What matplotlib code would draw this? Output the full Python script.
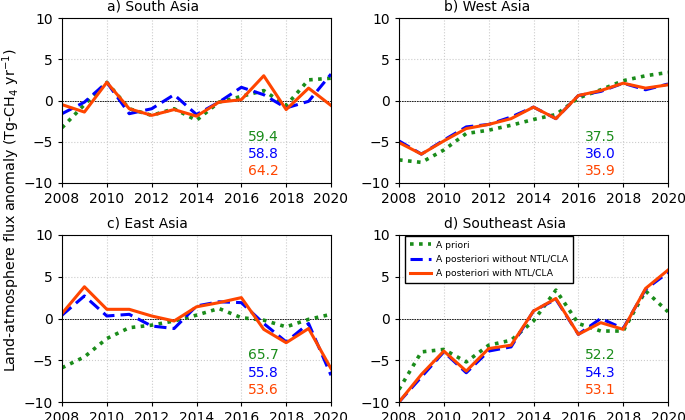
import numpy as np
import matplotlib
matplotlib.use("Agg")
from matplotlib import pyplot as plt

years = np.arange(2008, 2021)

titles = ["a) South Asia", "b) West Asia", "c) East Asia", "d) Southeast Asia"]

# a priori
prior = [
    [-3.3, -0.5, 2.2, -1.0, -1.8, -1.0, -2.4, -0.2, 0.5, 1.2, -0.6, 2.5, 2.7],
    [-7.2, -7.5, -6.0, -4.0, -3.6, -3.0, -2.3, -1.7, 0.3, 1.3, 2.4, 3.0, 3.4],
    [-5.9, -4.6, -2.4, -1.1, -0.8, -0.3, 0.4, 1.2, 0.1, -0.2, -1.0, -0.1, 0.5],
    [-8.5, -4.0, -3.7, -5.2, -3.2, -2.6, -0.3, 3.4, -0.6, -1.5, -1.5, 3.3, 0.8],
]
# a posteriori without NTL/CLA
post_wo = [
    [-1.6, -0.2, 2.2, -1.6, -1.0, 0.7, -1.7, -0.2, 1.6, 0.7, -0.9, -0.1, 3.2],
    [-4.9, -6.5, -4.8, -3.2, -2.9, -2.0, -0.8, -2.2, 0.6, 1.1, 2.1, 1.3, 2.0],
    [0.4, 2.7, 0.3, 0.5, -0.9, -1.2, 1.5, 2.0, 1.9, -0.6, -2.8, -0.6, -6.8],
    [-10.0, -7.0, -4.0, -6.5, -3.9, -3.4, 0.9, 2.3, -1.9, 0.0, -1.2, 3.5, 5.5],
]
# a posteriori with NTL/CLA
post_w = [
    [-0.5, -1.4, 2.2, -1.0, -1.8, -1.1, -1.9, -0.2, 0.1, 3.0, -1.1, 1.5, -0.6],
    [-5.1, -6.5, -4.9, -3.4, -2.9, -2.2, -0.8, -2.2, 0.6, 1.2, 2.1, 1.5, 1.9],
    [0.6, 3.8, 1.1, 1.1, 0.3, -0.3, 1.4, 1.9, 2.5, -1.3, -2.9, -1.2, -6.0],
    [-10.0, -6.7, -3.9, -6.3, -3.6, -3.2, 0.9, 2.4, -1.9, -0.5, -1.3, 3.6, 5.8],
]
# mean totals (Tg-CH4 yr-1)
totals = [
    ["59.4", "58.8", "64.2"],
    ["37.5", "36.0", "35.9"],
    ["65.7", "55.8", "53.6"],
    ["52.2", "54.3", "53.1"],
]

c_prior = "#1a8c1a"
c_wo = "#0000ff"
c_w = "#ff4500"

fig = plt.figure(figsize=(6.85, 4.2), dpi=100)
W, H = 685.0, 420.0
boxes = [(62, 18, 331, 183), (399, 18, 668, 183),
         (62, 235, 331, 402), (399, 235, 668, 402)]

for i in range(4):
    l, t, r, b = boxes[i]
    ax = fig.add_axes([l / W, 1 - b / H, (r - l) / W, (b - t) / H])
    ax.plot(years, prior[i], color=c_prior, ls=(0, (1, 1.5)), lw=2.6, label="A priori")
    ax.plot(years, post_wo[i], color=c_wo, ls=(0, (4, 2)), lw=2.2,
            label="A posteriori without NTL/CLA")
    ax.plot(years, post_w[i], color=c_w, ls="-", lw=2.2,
            label="A posteriori with NTL/CLA")
    ax.axhline(0, color="black", lw=0.6, ls=(0, (2, 1)), zorder=1)
    ax.set_xlim(2008, 2020)
    ax.set_ylim(-10, 10)
    ax.set_xticks(np.arange(2008, 2021, 2))
    ax.set_yticks([-10, -5, 0, 5, 10])
    ax.grid(True, color="#cccccc", ls=":", lw=0.8)
    ax.set_axisbelow(True)
    ax.tick_params(labelsize=10, length=3)
    ax.text(2010, 10.85, titles[i], fontsize=10, ha="left", va="baseline")
    for j, c in enumerate([c_prior, c_wo, c_w]):
        ax.text(2016.3, -4.4 - 2.1 * j, totals[i][j], color=c, fontsize=10,
                va="center", ha="left")
    if i == 3:
        ax.legend(loc="upper left", bbox_to_anchor=(0.02, 1.0), fontsize=6.6,
                  fancybox=False, edgecolor="black", framealpha=1,
                  handlelength=2.3, handletextpad=0.6, borderpad=0.5,
                  labelspacing=0.6, borderaxespad=0.1)

fig.text(0.016, 0.5, "Land-atmosphere flux anomaly (Tg-CH$_4$ yr$^{-1}$)",
         rotation=90, va="center", ha="center", fontsize=10.3)

fig.savefig("out.png", dpi=100)
